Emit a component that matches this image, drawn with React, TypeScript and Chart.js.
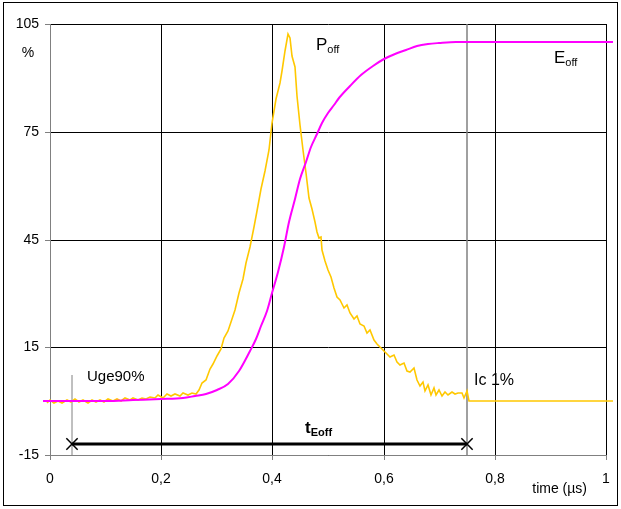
import React, { useEffect, useRef } from "react";
import { Chart, registerables } from "chart.js";

Chart.register(...registerables);

// ---- data ----
const poffTime = [
  -0.013, -0.005, 0.0, 0.008, 0.015, 0.022, 0.03, 0.038, 0.045, 0.052, 0.06, 0.068, 0.075, 0.083, 0.09, 0.098,
  0.105, 0.113, 0.12, 0.128, 0.135, 0.143, 0.15, 0.158, 0.165, 0.173, 0.18, 0.188, 0.195, 0.203, 0.21, 0.218,
  0.225, 0.233, 0.24, 0.248, 0.255, 0.262, 0.268, 0.274, 0.28, 0.287, 0.293, 0.3, 0.307, 0.313, 0.32, 0.327,
  0.333, 0.34, 0.347, 0.353, 0.36, 0.367, 0.373, 0.38, 0.387, 0.393, 0.4, 0.407, 0.413, 0.418, 0.423, 0.428,
  0.432, 0.436, 0.44, 0.445, 0.45, 0.455, 0.46, 0.466, 0.471, 0.476, 0.481, 0.484, 0.487, 0.49, 0.495, 0.5,
  0.505, 0.51, 0.516, 0.522, 0.528, 0.534, 0.54, 0.546, 0.552, 0.558, 0.564, 0.57, 0.576, 0.582, 0.588, 0.594,
  0.6, 0.606, 0.612, 0.618, 0.624, 0.63, 0.636, 0.642, 0.648, 0.654, 0.66, 0.665, 0.67, 0.675, 0.68, 0.685,
  0.69, 0.695, 0.7, 0.705, 0.71, 0.716, 0.722, 0.728, 0.734, 0.74, 0.745, 0.749, 0.753, 1.013,
];
const poffValues = [
  0.2, -0.6, 0.2, -0.5, 0.1, -0.4, 0.3, -0.2, 0.5, -0.3, 0.3, -0.5, 0.2, -0.3, 0.4, -0.2,
  0.6, 0.0, 0.7, 0.1, 0.8, 0.2, 0.9, 0.4, 1.0, 0.6, 1.2, 0.8, 1.6, 1.0, 1.9, 1.3,
  2.1, 1.5, 2.2, 1.6, 2.3, 1.9, 3.2, 5.0, 6.0, 9.0, 10.2, 12.5, 14.5, 17.5, 19.5, 23.0,
  25.5, 30.0, 34.0, 38.5, 43.0, 48.5, 53.0, 59.0, 64.0, 70.0, 77.5, 84.0, 88.5, 92.0, 97.5, 102.2,
  101.0, 96.0, 93.0, 85.0, 77.0, 70.0, 63.5, 56.5, 53.5, 50.0, 47.0, 45.5, 45.8, 42.0, 39.0, 36.5,
  34.5, 31.5, 29.0, 28.2, 26.0, 26.8, 24.5, 23.0, 23.8, 21.5, 20.8, 19.0, 19.8, 17.0, 15.8, 15.2,
  14.0, 13.2, 12.2, 12.8, 11.0, 10.0, 10.6, 8.5, 8.0, 9.3, 6.0, 4.2, 5.2, 2.8, 4.6, 1.6,
  3.6, 1.6, 3.0, 1.3, 2.6, 1.6, 2.5, 2.0, 2.4, 2.2, 1.0, 2.8, 0.0, 0.0,
];
const eoffTime = [
  -0.013, 0.05, 0.1, 0.15, 0.2, 0.24, 0.26, 0.28, 0.3, 0.32, 0.34, 0.36, 0.37, 0.38, 0.39, 0.4, 0.41, 0.42,
  0.43, 0.44, 0.45, 0.46, 0.47, 0.48, 0.49, 0.5, 0.51, 0.52, 0.54, 0.56, 0.58, 0.6, 0.62, 0.64, 0.66, 0.68,
  0.7, 0.73, 1.013,
];
const eoffValues = [
  0, 0.05, 0.1, 0.2, 0.5, 0.9, 1.3, 2.0, 3.0, 4.8, 8.5, 14, 17.3, 21, 25, 30, 36, 43,
  50, 56.3, 61.8, 66.6, 70.8, 74.4, 77.5, 80.1, 82.4, 84.4, 87.8, 90.8, 93.3, 95.2, 96.7, 97.9, 98.8, 99.4,
  99.8, 100, 100,
];
const xTicks = [0, 0.2, 0.4, 0.6, 0.8, 1];
const yTicks = [-15, 15, 45, 75, 105];
const uge90Time = 0.04;
const uge90Top = 7.2;
const ic1Time = 0.75;
const tEoffLevel = -11.9;

const FONT = "'Liberation Sans', Arial, sans-serif";

type Label = { main: string; sub?: string; x: number; y: number; size: number; subSize?: number; bold?: boolean };
const labels: Label[] = [
  { main: "P", sub: "off", x: 0.478, y: 99.2, size: 17, subSize: 11 },
  { main: "E", sub: "off", x: 0.907, y: 95.5, size: 17, subSize: 11 },
  { main: "t", sub: "Eoff", x: 0.459, y: -7.5, size: 17, subSize: 11, bold: true },
  { main: "Uge90%", x: 0.066, y: 6.7, size: 15 },
  { main: "Ic 1%", x: 0.762, y: 5.6, size: 16 },
];

const pts = (xs: number[], ys: number[]) => xs.map((x, i) => ({ x, y: ys[i] }));

const decor = {
  id: "decor",
  beforeDraw(chart: any) {
    const ctx = chart.ctx;
    ctx.save();
    ctx.fillStyle = "#fff";
    ctx.fillRect(0, 0, chart.width, chart.height);
    ctx.strokeStyle = "#000";
    ctx.lineWidth = 1;
    ctx.strokeRect(3.5, 2.5, chart.width - 7, chart.height - 6);
    ctx.restore();
  },
  afterDraw(chart: any) {
    const ctx = chart.ctx;
    const xs = chart.scales.x;
    const ys = chart.scales.y;
    ctx.save();
    ctx.fillStyle = "#000";
    ctx.textBaseline = "middle";
    ctx.textAlign = "left";
    for (const l of labels) {
      const px = xs.getPixelForValue(l.x);
      const py = ys.getPixelForValue(l.y);
      const w = l.bold ? "bold " : "";
      ctx.font = `${w}${l.size}px ${FONT}`;
      ctx.fillText(l.main, px, py);
      if (l.sub) {
        const mw = ctx.measureText(l.main).width;
        ctx.font = `${w}${l.subSize}px ${FONT}`;
        ctx.fillText(l.sub, px + mw, py + 5);
      }
    }
    // axis captions
    ctx.font = `14px ${FONT}`;
    ctx.textAlign = "right";
    ctx.fillText("time (µs)", xs.getPixelForValue(0.966), ys.getPixelForValue(-24.5));
    ctx.textAlign = "center";
    ctx.fillText("%", chart.chartArea.left - 22, ys.getPixelForValue(96.9));
    ctx.restore();
  },
};

export default function App() {
  const ref = useRef<HTMLCanvasElement>(null);
  useEffect(() => {
    if (!ref.current) return;
    Chart.defaults.font.family = FONT;
    Chart.defaults.color = "#000";
    const chart = new Chart(ref.current, {
      type: "line",
      data: {
        datasets: [
          {
            label: "tEoff",
            data: [
              { x: uge90Time, y: tEoffLevel },
              { x: ic1Time, y: tEoffLevel },
            ],
            borderColor: "#000",
            borderWidth: 3,
            pointStyle: "crossRot",
            pointRadius: 8,
            pointBorderWidth: 1.5,
            pointBorderColor: "#000",
            pointBackgroundColor: "#000",
            clip: false,
            order: -2,
          },
          {
            label: "Eoff",
            data: pts(eoffTime, eoffValues),
            borderColor: "#FF00FF",
            borderWidth: 2,
            pointRadius: 0,
            cubicInterpolationMode: "monotone",
            clip: false,
            order: 0,
          },
          {
            label: "Poff",
            data: pts(poffTime, poffValues),
            borderColor: "#FFC800",
            borderWidth: 1.6,
            pointRadius: 0,
            tension: 0,
            clip: false,
            order: 1,
          },
          {
            label: "Uge90",
            data: [
              { x: uge90Time, y: -15 },
              { x: uge90Time, y: uge90Top },
            ],
            borderColor: "#808080",
            borderWidth: 1,
            pointRadius: 0,
            order: 2,
          },
          {
            label: "Ic1",
            data: [
              { x: ic1Time, y: -15 },
              { x: ic1Time, y: 105 },
            ],
            borderColor: "#808080",
            borderWidth: 1.5,
            pointRadius: 0,
            order: 2,
          },
        ],
      },
      options: {
        animation: false,
        responsive: false,
        devicePixelRatio: 1,
        layout: { autoPadding: false, padding: { top: 24, right: 13, left: 0, bottom: 0 } },
        plugins: { legend: { display: false }, tooltip: { enabled: false }, title: { display: false } },
        scales: {
          x: {
            type: "linear",
            min: 0,
            max: 1,
            alignToPixels: true,
            afterBuildTicks: (s: any) => {
              s.ticks = xTicks.map((v) => ({ value: v }));
            },
            afterFit: (s: any) => {
              s.height = 54;
            },
            ticks: {
              font: { size: 14 },
              color: "#000",
              padding: 11,
              maxRotation: 0,
              autoSkip: false,
              callback: (v: any) => String(v).replace(".", ","),
            },
            grid: { color: "#000", lineWidth: 1, tickLength: 5, tickColor: "#808080" },
            border: { color: "#808080", width: 1 },
          },
          y: {
            type: "linear",
            min: -15,
            max: 105,
            alignToPixels: true,
            afterBuildTicks: (s: any) => {
              s.ticks = yTicks.map((v) => ({ value: v }));
            },
            afterFit: (s: any) => {
              s.width = 50;
            },
            ticks: { font: { size: 14 }, color: "#000", padding: 6 },
            grid: { color: "#000", lineWidth: 1, tickLength: 5, tickColor: "#808080" },
            border: { color: "#808080", width: 1 },
          },
        },
      },
      plugins: [decor],
    } as any);
    return () => chart.destroy();
  }, []);
  return (
    <div style={{ position: "fixed", left: 0, top: 0, width: 621, height: 509, background: "#fff" }}>
      <canvas ref={ref} width={621} height={509} style={{ display: "block" }} />
    </div>
  );
}
